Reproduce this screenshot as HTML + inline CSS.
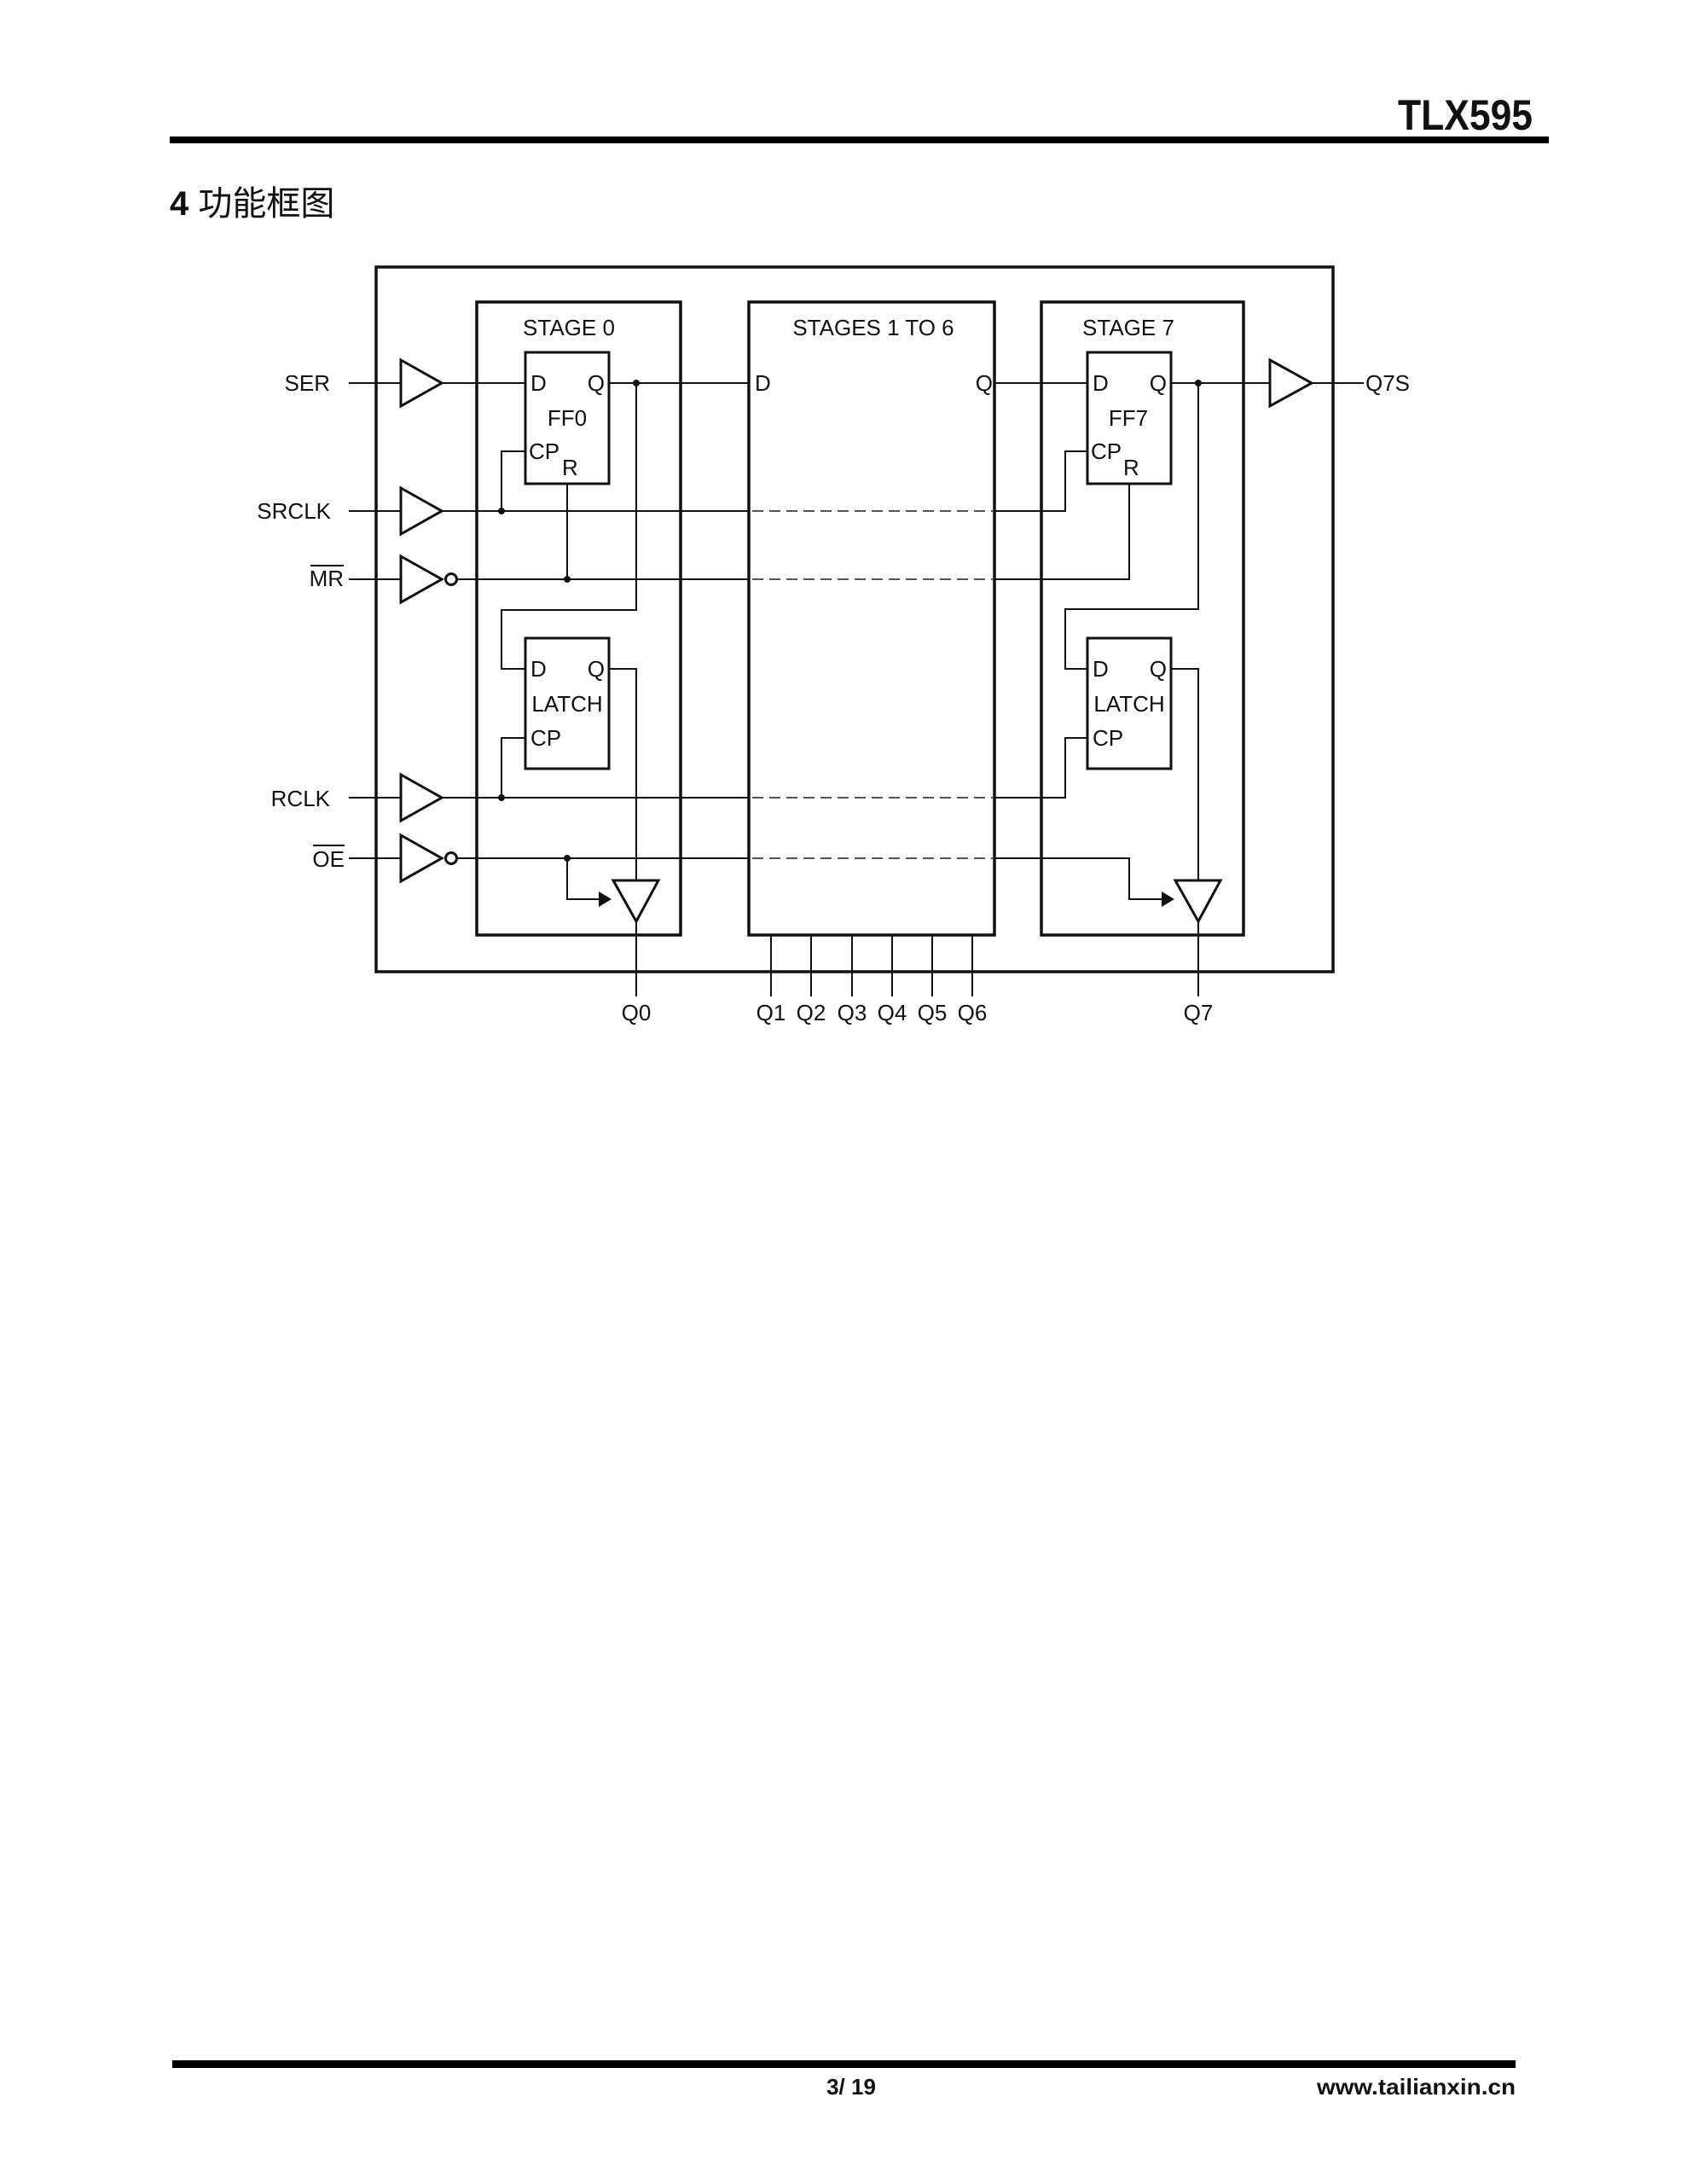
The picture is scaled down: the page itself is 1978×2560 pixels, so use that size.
<!DOCTYPE html>
<html><head><meta charset="utf-8"><style>
html,body{margin:0;padding:0;background:#fff;}
svg{display:block;}
text{font-family:"Liberation Sans","Noto Sans CJK SC",sans-serif;fill:#111;}
</style></head><body>
<svg width="1978" height="2560" viewBox="0 0 1978 2560" xmlns="http://www.w3.org/2000/svg">
<!-- header -->
<text x="1797" y="152" font-size="50" font-weight="bold" text-anchor="end" textLength="158" lengthAdjust="spacingAndGlyphs">TLX595</text>
<rect x="199" y="160" width="1617" height="8" fill="#000"/>
<text x="199" y="252" font-size="40" font-weight="bold" font-family="Liberation Sans,Noto Sans CJK SC,sans-serif">4 <tspan font-weight="normal">功能框图</tspan></text>

<!-- footer -->
<rect x="202" y="2415" width="1575" height="9" fill="#000"/>
<text x="998" y="2455" font-size="26" font-weight="bold" text-anchor="middle">3/ 19</text>
<text x="1777" y="2455" font-size="26" font-weight="bold" text-anchor="end" textLength="233" lengthAdjust="spacingAndGlyphs">www.tailianxin.cn</text>

<g fill="none" stroke="#111">
<!-- outer & stage boxes -->
<rect x="441" y="313" width="1122" height="826" stroke-width="3.5"/>
<rect x="559" y="354" width="239" height="742" stroke-width="3.5"/>
<rect x="878" y="354" width="288" height="742" stroke-width="3.5"/>
<rect x="1221" y="354" width="237" height="742" stroke-width="3.5"/>
<!-- FF & latch boxes -->
<rect x="616" y="413" width="98" height="154" stroke-width="3"/>
<rect x="616" y="748" width="98" height="153" stroke-width="3"/>
<rect x="1275" y="413" width="98" height="154" stroke-width="3"/>
<rect x="1275" y="748" width="98" height="153" stroke-width="3"/>

<!-- input buffers -->
<g stroke-width="3">
<polygon points="470,422 518,449 470,476"/>
<polygon points="470,572 518,599 470,626"/>
<polygon points="470,652 518,679 470,706"/>
<circle cx="529" cy="679" r="6.5"/>
<polygon points="470,908 518,935 470,962"/>
<polygon points="470,979 518,1006 470,1033"/>
<circle cx="529" cy="1006" r="6.5"/>
<!-- output buffers -->
<polygon points="719,1032 772,1032 746,1080"/>
<polygon points="1378,1032 1431,1032 1405,1080"/>
<polygon points="1489,422 1538,449 1489,476"/>
</g>

<g stroke-width="2">
<!-- input lines -->
<path d="M409 449H470 M409 599H470 M409 679H470 M409 935H470 M409 1006H470"/>
<!-- SER -->
<path d="M518 449H616"/>
<path d="M714 449H878"/>
<!-- SRCLK -->
<path d="M518 599H878 M588 599V529H616"/>
<path d="M1166 599H1249V529H1275"/>
<!-- MR -->
<path d="M536 679H878 M665 679V567"/>
<path d="M1166 679H1324V567"/>
<!-- Q0 route -->
<path d="M746 449V715H588V784H616"/>
<path d="M714 784H746V1032 M746 1080V1168"/>
<!-- RCLK -->
<path d="M518 935H878 M588 935V865H616"/>
<path d="M1166 935H1249V865H1275"/>
<!-- OE -->
<path d="M536 1006H878 M665 1006V1054H704"/>
<path d="M1166 1006H1324V1054H1364"/>
<!-- stage7 -->
<path d="M1166 449H1275"/>
<path d="M1373 449H1489 M1538 449H1599"/>
<path d="M1405 449V714H1249V784H1275"/>
<path d="M1373 784H1405V1032 M1405 1080V1168"/>
<!-- Q1-Q6 -->
<path d="M904 1096V1168 M951 1096V1168 M999 1096V1168 M1046 1096V1168 M1093 1096V1168 M1140 1096V1168"/>
<!-- dashed -->
<path d="M882 599H1164 M882 679H1164 M882 935H1164 M882 1006H1164" stroke-dasharray="13 7" stroke="#555"/>
</g>
</g>
<!-- dots & arrows -->
<g fill="#111">
<circle cx="746" cy="449" r="4"/>
<circle cx="588" cy="599" r="4"/>
<circle cx="665" cy="679" r="4"/>
<circle cx="588" cy="935" r="4"/>
<circle cx="665" cy="1006" r="4"/>
<circle cx="1405" cy="449" r="4"/>
<polygon points="702,1045 717,1054 702,1063"/>
<polygon points="1362,1045 1377,1054 1362,1063"/>
</g>

<!-- labels -->
<g font-size="26">
<text x="387" y="458" text-anchor="end">SER</text>
<text x="388" y="608" text-anchor="end">SRCLK</text>
<text x="403" y="687" text-anchor="end">MR</text>
<line x1="364" y1="663" x2="403" y2="663" stroke="#111" stroke-width="2"/>
<text x="387" y="945" text-anchor="end">RCLK</text>
<text x="404" y="1016" text-anchor="end">OE</text>
<line x1="367" y1="991" x2="404" y2="991" stroke="#111" stroke-width="2"/>

<text x="667" y="393" text-anchor="middle">STAGE 0</text>
<text x="1024" y="393" text-anchor="middle">STAGES 1 TO 6</text>
<text x="1323" y="393" text-anchor="middle">STAGE 7</text>

<text x="622" y="458">D</text><text x="709" y="458" text-anchor="end">Q</text>
<text x="665" y="499" text-anchor="middle">FF0</text>
<text x="620" y="538">CP</text><text x="659" y="557">R</text>

<text x="622" y="793">D</text><text x="709" y="793" text-anchor="end">Q</text>
<text x="665" y="834" text-anchor="middle">LATCH</text>
<text x="622" y="874">CP</text>

<text x="885" y="458">D</text><text x="1164" y="458" text-anchor="end">Q</text>

<text x="1281" y="458">D</text><text x="1368" y="458" text-anchor="end">Q</text>
<text x="1323" y="499" text-anchor="middle">FF7</text>
<text x="1279" y="538">CP</text><text x="1317" y="557">R</text>

<text x="1281" y="793">D</text><text x="1368" y="793" text-anchor="end">Q</text>
<text x="1324" y="834" text-anchor="middle">LATCH</text>
<text x="1281" y="874">CP</text>

<text x="1601" y="458">Q7S</text>
<text x="746" y="1196" text-anchor="middle">Q0</text>
<text x="904" y="1196" text-anchor="middle">Q1</text>
<text x="951" y="1196" text-anchor="middle">Q2</text>
<text x="999" y="1196" text-anchor="middle">Q3</text>
<text x="1046" y="1196" text-anchor="middle">Q4</text>
<text x="1093" y="1196" text-anchor="middle">Q5</text>
<text x="1140" y="1196" text-anchor="middle">Q6</text>
<text x="1405" y="1196" text-anchor="middle">Q7</text>
</g>
</svg>
</body></html>
